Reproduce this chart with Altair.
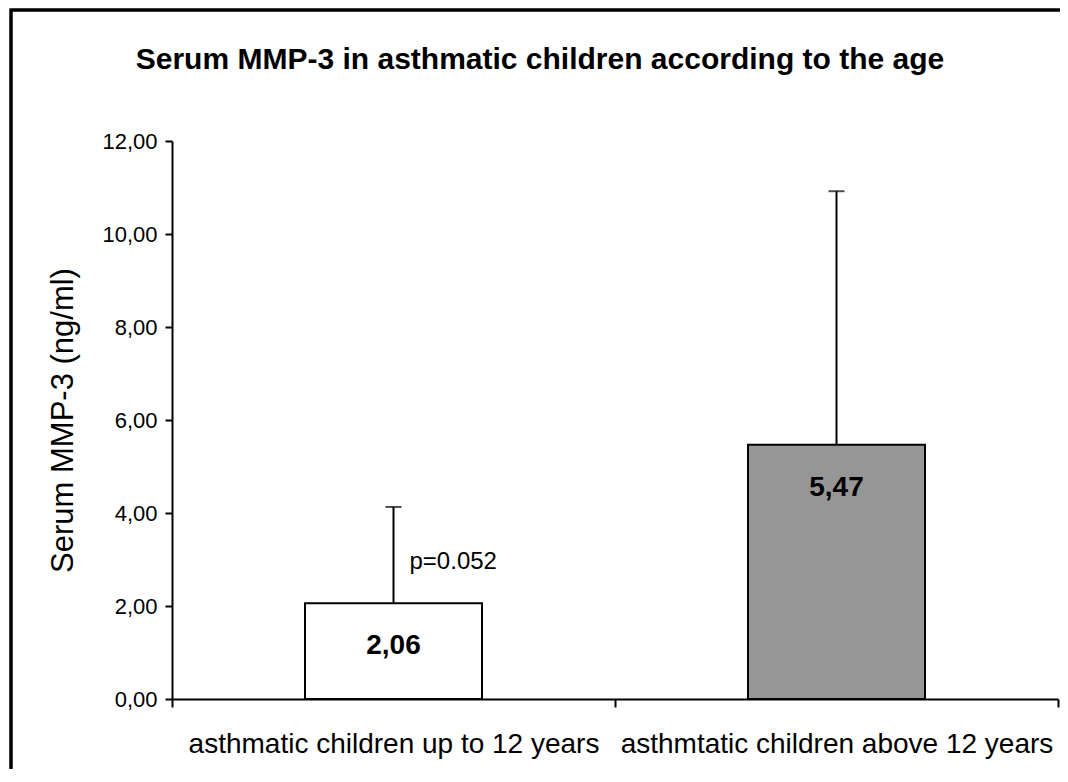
import altair as alt
import pandas as pd

categories = ["asthmatic children up to 12 years", "asthmtatic children above 12 years"]
means = [2.06, 5.47]
upper = [4.13, 10.92]
value_labels = ["2,06", "5,47"]
fills = ["#ffffff", "#969696"]
p_text = ["p=0.052"]
p_pos = [2.95]

df = pd.DataFrame({"cat": categories, "mean": means, "upper": upper,
                   "label": value_labels, "fill": fills})
pdf = pd.DataFrame({"cat": [categories[0]], "txt": p_text, "pos": p_pos})

W, H = 886, 558
FONT = "Liberation Sans"

x = alt.X("cat:N", sort=categories, title=None,
          scale=alt.Scale(paddingInner=0, paddingOuter=0),
          axis=alt.Axis(labelAngle=0, labelFontSize=28, labelColor="black",
                        labelFont=FONT, tickBand="extent", labelLimit=0,
                        tickSize=8, tickWidth=2, tickColor="black",
                        domainColor="black", domainWidth=2, labelPadding=23,
                        grid=False))
y = alt.Y("mean:Q", title="Serum MMP-3 (ng/ml)",
          scale=alt.Scale(domain=[0, 12], nice=False),
          axis=alt.Axis(values=[0, 2, 4, 6, 8, 10, 12],
                        labelExpr="replace(format(datum.value, '.2f'), '.', ',')",
                        labelFontSize=22, labelColor="black", labelFont=FONT,
                        tickSize=7, tickWidth=2, tickColor="black",
                        domainColor="black", domainWidth=2, labelPadding=8,
                        titleFontSize=31, titleFont=FONT,
                        titleFontWeight="normal", titleColor="black",
                        titlePadding=22, grid=False))

base = alt.Chart(df)

bars = base.mark_bar(size=177, stroke="black", strokeWidth=2).encode(
    x=x, y=y, fill=alt.Fill("fill:N", scale=None))

rule = base.mark_rule(color="black", strokeWidth=2).encode(
    x=alt.X("cat:N", sort=categories), y=alt.Y("mean:Q"), y2="upper:Q")

cap = base.mark_tick(color="black", size=16, thickness=2).encode(
    x=alt.X("cat:N", sort=categories), y=alt.Y("upper:Q"))

vals = base.mark_text(fontSize=28, fontWeight="bold", font=FONT,
                      color="black", dy=43, baseline="middle").encode(
    x=alt.X("cat:N", sort=categories), y=alt.Y("mean:Q"), text="label:N")

ptxt = alt.Chart(pdf).mark_text(fontSize=24, font=FONT, color="black",
                                align="left", baseline="middle", dx=16).encode(
    x=alt.X("cat:N", sort=categories), y=alt.Y("pos:Q"), text="txt:N")

frame = base.mark_rect(fill=None, fillOpacity=0, stroke="black", strokeWidth=3,
                       clip=False).encode(
    x=alt.value(-161), x2=alt.value(1000), y=alt.value(-131), y2=alt.value(800))

chart = alt.layer(frame, bars, rule, cap, vals, ptxt).properties(
    width=W, height=H,
    title=alt.TitleParams("Serum MMP-3 in asthmatic children according to the age",
                          fontSize=30, fontWeight="bold", font=FONT,
                          color="black", anchor="middle", dx=-75, offset=-90,
                          baseline="alphabetic"),
    autosize=alt.AutoSizeParams(type="none"),
    padding={"left": 164, "top": 133, "right": 2, "bottom": 70},
).configure_view(stroke=None, strokeWidth=0)

chart.save("out.html", embed_options={"renderer": "svg", "actions": False})
